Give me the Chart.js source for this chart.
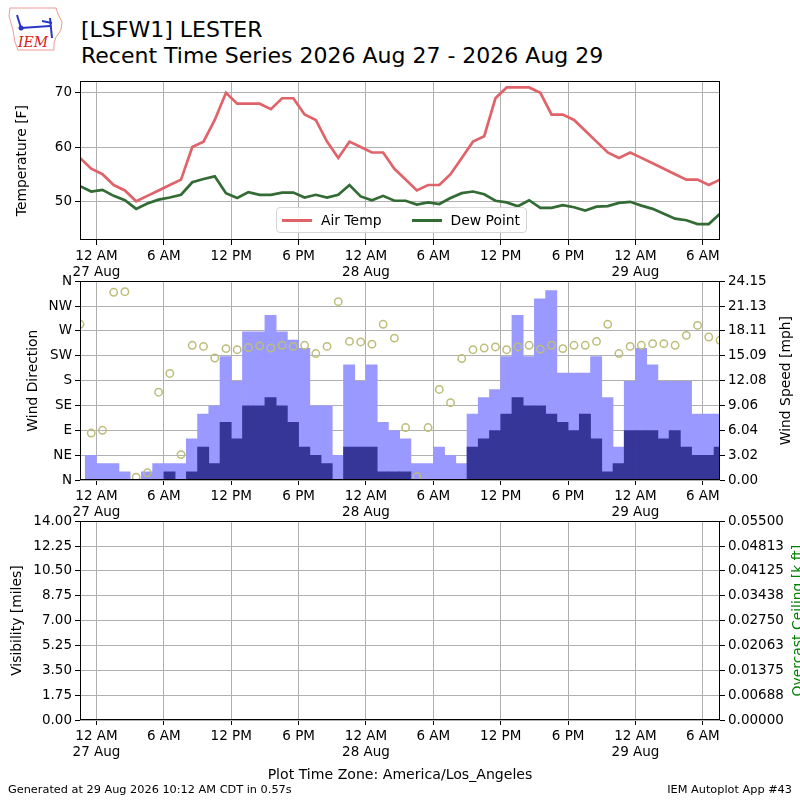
<!DOCTYPE html>
<html>
<head>
<meta charset="utf-8">
<title>[LSFW1] LESTER - Recent Time Series</title>
<script src="https://cdn.jsdelivr.net/npm/chart.js@4.4.1/dist/chart.umd.min.js"></script>
<style>
  html, body { margin: 0; padding: 0; background: #fff; }
  body {
    width: 800px; height: 800px; position: relative; overflow: hidden;
    font-family: 'DejaVu Sans', sans-serif; color: #000;
  }
  .abs   { position: absolute; white-space: nowrap; }
  .panel { position: absolute; left: 0; width: 800px; }
  .title { left: 81px; font-size: 22px; line-height: 26px; }
  .legend {
    left: 276px; top: 207px; width: 244px; height: 24px;
    border: 1px solid #d4d4d4; border-radius: 4px;
    background: rgba(255, 255, 255, 0.85);
    display: flex; align-items: center; padding-left: 5px; box-sizing: content-box;
    font-size: 13.9px;
  }
  .legend .item   { display: flex; align-items: center; margin-right: 30px; }
  .legend .swatch { width: 30px; height: 3px; margin-right: 9px; }
</style>
</head>
<body>

<!-- IEM logo -->
<svg class="abs" style="left:6px;top:4px" width="58" height="48" viewBox="0 0 58 48">
  <path d="M4 4 L50 4 L52 10 L56 18 L55 26 L50 33 L48 39 L48 46 L12 46 L9 38 L7 26 L3 12 Z"
        fill="none" stroke="#e99" stroke-width="1"/>
  <g stroke="#2a36c8" stroke-width="2" fill="none">
    <line x1="15" y1="24" x2="44" y2="22"/>
    <line x1="44" y1="14" x2="46" y2="34"/>
    <line x1="15" y1="24" x2="11" y2="11"/>
    <line x1="36" y1="17" x2="46" y2="19"/>
  </g>
  <circle cx="15" cy="24" r="2.5" fill="#2a36c8"/>
  <text x="12" y="43" font-family="DejaVu Serif" font-style="italic" font-size="14" fill="#d82020">IEM</text>
</svg>

<div class="abs title" style="top:17px">[LSFW1] LESTER</div>
<div class="abs title" style="top:43px">Recent Time Series 2026 Aug 27 - 2026 Aug 29</div>

<div class="panel" style="top:70px;height:215px"><canvas id="tempChart" width="800" height="215"></canvas></div>
<div class="panel" style="top:270px;height:255px"><canvas id="windChart" width="800" height="255"></canvas></div>
<div class="panel" style="top:510px;height:255px"><canvas id="visChart" width="800" height="255"></canvas></div>

<div id="tempLegend" class="abs legend"></div>

<div class="abs" style="left:0;width:800px;top:766px;text-align:center;font-size:14.1px;line-height:16px">Plot Time Zone: America/Los_Angeles</div>
<div class="abs" style="left:8px;top:783px;font-size:11.3px;line-height:14px">Generated at 29 Aug 2026 10:12 AM CDT in 0.57s</div>
<div class="abs" style="right:8px;top:783px;font-size:11.3px;line-height:14px">IEM Autoplot App #43</div>

<script>
// ============================================================
// LSFW1 LESTER — recent time series (temp, wind, visibility)
// ============================================================

// ── Data ───────────────────────────────────────────────────
// hours are counted from 27 Aug 00:00 (America/Los_Angeles)
const FIRST_OBS_HOUR = -1.47;   // first hourly ob, 26 Aug ~10:32 PM

const AIR_TEMP = [
  58, 56, 55, 53, 52, 50, 51, 52, 53, 54,
  60, 61, 65, 70, 68, 68, 68, 67, 69, 69,
  66, 65, 61, 58, 61, 60, 59, 59, 56, 54,
  52, 53, 53, 55, 58, 61, 62, 69, 71, 71,
  71, 70, 66, 66, 65, 63, 61, 59, 58, 59,
  58, 57, 56, 55, 54, 54, 53, 54
];

const DEW_POINT = [
  52.8, 51.8, 52.1, 51.0, 50.2, 48.6, 49.6, 50.3, 50.7, 51.2,
  53.5, 54.1, 54.6, 51.5, 50.6, 51.7, 51.2, 51.2, 51.6, 51.6,
  50.7, 51.2, 50.7, 51.2, 53.0, 50.9, 50.2, 51.0, 50.1, 50.1,
  49.4, 49.8, 49.5, 50.6, 51.5, 51.8, 51.3, 50.1, 49.8, 49.1,
  50.2, 48.8, 48.8, 49.3, 48.9, 48.3, 49.0, 49.1, 49.7, 49.9,
  49.2, 48.6, 47.7, 46.8, 46.5, 45.8, 45.8, 47.7
];

const WIND_DIR = [
  282,  85,  90, 340, 341,   5,  13, 159, 193,  46,
  244, 242, 221, 238, 236, 240, 243, 239, 244, 242,
  244, 229, 242, 323, 251, 250, 246, 282, 257,  95,
    6,  95, 164, 140, 220, 236, 239, 241, 236, 241,
  244, 237, 244, 238, 244, 244, 251, 282, 229, 242,
  244, 247, 247, 244, 262, 280, 259, 253
];

// hourly bars, first one covers 26 Aug 11 PM - 27 Aug 12 AM
const FIRST_BAR_HOUR = -1;

const WIND_GUST = [
   3,
   2,  2,  1,  0,  1,  2,  2,  2,  5,  8,  9, 15,
  12, 18, 18, 20, 18, 17, 16,  9,  9,  3, 14, 12,
  14,  7,  6,  5,  2,  2,  4,  3,  2,  8, 10, 11,
  15, 20, 15, 22, 23, 13, 13, 13, 15, 10,  4, 12,
  16, 14, 12, 12, 12,  8,  8,  8
];

const WIND_SPEED = [
   0,
   0,  0,  0,  0,  0,  0,  1,  0,  1,  4,  2,  7,
   5,  9,  9, 10,  9,  7,  4,  3,  2,  0,  4,  4,
   4,  1,  1,  1,  0,  0,  0,  0,  0,  4,  5,  6,
   8, 10,  9,  9,  8,  7,  6,  8,  5,  1,  2,  6,
   6,  6,  5,  6,  4,  3,  3,  4
];

// ── Axes / ticks ───────────────────────────────────────────
const X_TICK_HOURS  = [0, 6, 12, 18, 24, 30, 36, 42, 48, 54];
const X_TICK_LABELS = [
  ['12 AM', '27 Aug'], '6 AM', '12 PM', '6 PM',
  ['12 AM', '28 Aug'], '6 AM', '12 PM', '6 PM',
  ['12 AM', '29 Aug'], '6 AM'
];
const TEMP_TICKS        = [50, 60, 70];
const DIR_TICKS         = [0, 45, 90, 135, 180, 225, 270, 315, 360];
const DIR_TICK_LABELS   = ['N', 'NE', 'E', 'SE', 'S', 'SW', 'W', 'NW', 'N'];
const SPEED_TICK_LABELS = ['0.00', '3.02', '6.04', '9.06', '12.08', '15.09', '18.11', '21.13', '24.15'];
const VIS_TICK_LABELS   = ['0.00', '1.75', '3.50', '5.25', '7.00', '8.75', '10.50', '12.25', '14.00'];
const CEIL_TICK_LABELS  = ['0.00000', '0.00688', '0.01375', '0.02063', '0.02750',
                           '0.03438', '0.04125', '0.04813', '0.05500'];

(function () {

  // ── Look ────────────────────────────────────────────────
  const COLOR_TEMP  = '#e0636a';
  const COLOR_DEW   = '#326b33';
  const COLOR_GUST  = '#9999ff';
  const COLOR_SPEED = '#363699';
  const COLOR_DIR   = '#bdbd7a';
  const GRID        = '#b0b0b0';
  const FONT        = "'DejaVu Sans', sans-serif";
  const TICK_FONT   = { family: FONT, size: 13.5, lineHeight: 1.22 };

  Chart.defaults.font.family = FONT;
  Chart.defaults.color = '#000';

  const X_MIN = FIRST_OBS_HOUR;
  const X_MAX = FIRST_OBS_HOUR + AIR_TEMP.length - 1;

  // ── Helpers ─────────────────────────────────────────────
  const obsPoints = (vals) => vals.map((v, i) => ({ x: FIRST_OBS_HOUR + i, y: v }));
  const barPoints = (vals) => vals.map((v, i) => ({ x: FIRST_BAR_HOUR + i + 0.5, y: v }));
  const evenTicks = (min, max, n) => Array.from({ length: n }, (_, i) => min + (max - min) * i / (n - 1));

  function xScale(z) {
    return {
      type: 'linear', min: X_MIN, max: X_MAX, offset: false, z: z || 0,
      afterBuildTicks: (s) => { s.ticks = X_TICK_HOURS.map(v => ({ value: v })); },
      afterFit: (s) => { s.height = 45; },
      grid: { color: GRID, offset: false, tickLength: 5, tickColor: '#000' },
      border: { display: false },
      ticks: {
        autoSkip: false, maxRotation: 0, minRotation: 0, padding: 3,
        font: TICK_FONT, color: '#000',
        callback: (v, i) => X_TICK_LABELS[i]
      }
    };
  }

  function yScale(position, min, max, values, labels, opts) {
    return Object.assign({
      type: 'linear', position: position, min: min, max: max,
      afterBuildTicks: (s) => { s.ticks = values.map(v => ({ value: v })); },
      afterFit: (s) => { s.width = 80; },
      grid: { color: GRID, tickLength: 5, tickColor: '#000' },
      border: { display: false },
      ticks: {
        autoSkip: false, padding: 3, font: TICK_FONT, color: '#000',
        callback: (v, i) => labels ? labels[i] : v
      }
    }, opts || {});
  }

  // black box round the plot area
  const framePlugin = {
    id: 'frame',
    afterDraw(chart) {
      const { ctx, chartArea: a } = chart;
      ctx.save();
      ctx.strokeStyle = '#000';
      ctx.lineWidth = 1;
      ctx.strokeRect(Math.round(a.left) + 0.5, Math.round(a.top) + 0.5,
                     Math.round(a.width) - 1, Math.round(a.height) - 1);
      ctx.restore();
    }
  };

  // rotated axis titles at fixed x positions
  function axisTitles(items) {
    return {
      id: 'axisTitles',
      afterDraw(chart) {
        const { ctx, chartArea: a } = chart;
        const midY = (a.top + a.bottom) / 2;
        items.forEach((it) => {
          ctx.save();
          ctx.translate(it.x, midY);
          ctx.rotate(-Math.PI / 2);
          ctx.font = '13.9px ' + FONT;
          ctx.fillStyle = it.color || '#000';
          ctx.textAlign = 'center';
          ctx.textBaseline = 'middle';
          ctx.fillText(it.text, 0, 0);
          ctx.restore();
        });
      }
    };
  }

  const baseOptions = (padRight) => ({
    responsive: false,
    maintainAspectRatio: false,
    animation: false,
    layout: { padding: { top: 10, right: padRight, left: 0, bottom: 0 } },
    plugins: { legend: { display: false }, tooltip: { enabled: true } }
  });

  // ── Temperature / dew point ─────────────────────────────
  const tempChart = new Chart(document.getElementById('tempChart'), {
    type: 'line',
    data: {
      datasets: [
        { label: 'Air Temp',  data: obsPoints(AIR_TEMP),  borderColor: COLOR_TEMP,
          backgroundColor: COLOR_TEMP, borderWidth: 2.7, pointRadius: 0, tension: 0 },
        { label: 'Dew Point', data: obsPoints(DEW_POINT), borderColor: COLOR_DEW,
          backgroundColor: COLOR_DEW, borderWidth: 2.7, pointRadius: 0, tension: 0 }
      ]
    },
    options: Object.assign(baseOptions(80), {
      scales: {
        x: xScale(0),
        y: yScale('left', 42.86, 72.14, TEMP_TICKS, null)
      }
    }),
    plugins: [framePlugin, axisTitles([{ text: 'Temperature [F]', x: 22 }])]
  });

  // legend inside the plot, built from the datasets
  const legendEl = document.getElementById('tempLegend');
  tempChart.data.datasets.forEach((ds) => {
    const item = document.createElement('div');
    item.className = 'item';
    item.innerHTML = '<span class="swatch" style="background:' + ds.borderColor + '"></span>' + ds.label;
    legendEl.appendChild(item);
  });

  // ── Wind direction + speed / gust ───────────────────────
  new Chart(document.getElementById('windChart'), {
    type: 'bar',
    data: {
      datasets: [
        { type: 'scatter', label: 'Wind Direction', data: obsPoints(WIND_DIR), yAxisID: 'yDir',
          pointRadius: 3.7, pointBorderWidth: 1.5, borderColor: COLOR_DIR,
          backgroundColor: 'rgba(0,0,0,0)', showLine: false, clip: 0 },
        { label: 'Wind Speed', data: barPoints(WIND_SPEED), yAxisID: 'ySpd',
          backgroundColor: COLOR_SPEED, borderWidth: 0, grouped: false,
          barPercentage: 1, categoryPercentage: 1, clip: 0 },
        { label: 'Wind Gust', data: barPoints(WIND_GUST), yAxisID: 'ySpd',
          backgroundColor: COLOR_GUST, borderWidth: 0, grouped: false,
          barPercentage: 1, categoryPercentage: 1, clip: 0 }
      ]
    },
    options: Object.assign(baseOptions(0), {
      scales: {
        x: xScale(1),
        yDir: yScale('left', 0, 360, DIR_TICKS, DIR_TICK_LABELS, { z: 1 }),
        ySpd: yScale('right', 0, 24.15, evenTicks(0, 24.15, 9), SPEED_TICK_LABELS, {
          grid: { drawOnChartArea: false, tickLength: 5, tickColor: '#000' }
        })
      }
    }),
    plugins: [framePlugin, axisTitles([
      { text: 'Wind Direction', x: 33 },
      { text: 'Wind Speed [mph]', x: 786 }
    ])]
  });

  // ── Visibility / ceiling (no obs in period) ─────────────
  new Chart(document.getElementById('visChart'), {
    type: 'line',
    data: { datasets: [] },
    options: Object.assign(baseOptions(0), {
      scales: {
        x: xScale(0),
        yVis: yScale('left', 0, 14, evenTicks(0, 14, 9), VIS_TICK_LABELS),
        yCeil: yScale('right', 0, 0.055, evenTicks(0, 0.055, 9), CEIL_TICK_LABELS, {
          grid: { drawOnChartArea: false, tickLength: 5, tickColor: '#000' }
        })
      }
    }),
    plugins: [framePlugin, axisTitles([
      { text: 'Visibility [miles]', x: 17 },
      { text: 'Overcast Ceiling [k ft]', x: 798, color: '#008000' }
    ])]
  });

})();
</script>
</body>
</html>
